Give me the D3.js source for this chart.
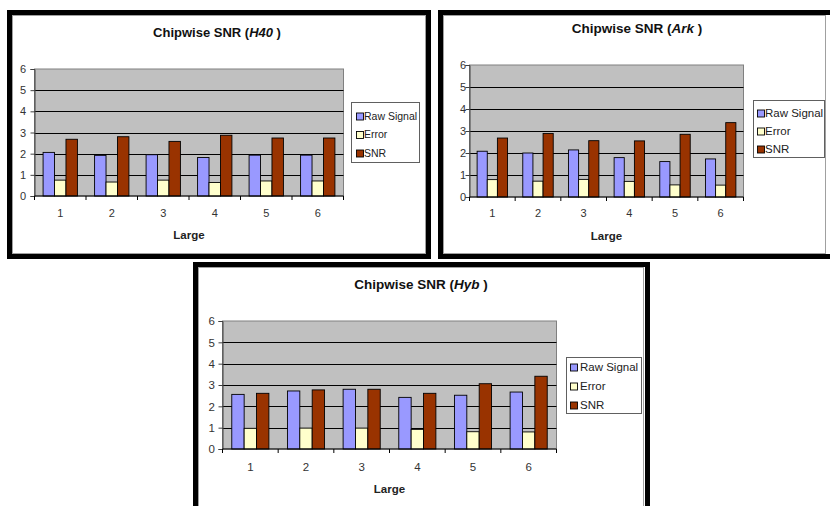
<!DOCTYPE html>
<html>
<head>
<meta charset="utf-8">
<script src="https://cdn.jsdelivr.net/npm/d3@7"></script>
<style>
  html, body { margin: 0; padding: 0; background: #ffffff; }
  svg { display: block; font-family: "Liberation Sans", Arial, sans-serif; }
</style>
</head>
<body>
<svg id="chart" width="830" height="506"></svg>
<script>
// ---- data ----
const categories = ["1", "2", "3", "4", "5", "6"];
const seriesNames = ["Raw Signal", "Error", "SNR"];
const yTickValues = [0, 1, 2, 3, 4, 5, 6];
const chartNames = ["H40", "Ark", "Hyb"];
const titlePrefix = "Chipwise SNR (";
const xAxisTitle = "Large";

const h40Raw   = [2.06, 1.92, 1.95, 1.82, 1.93, 1.93];
const h40Error = [0.75, 0.66, 0.75, 0.64, 0.71, 0.71];
const h40Snr   = [2.68, 2.80, 2.58, 2.87, 2.74, 2.74];

const arkRaw   = [2.08, 2.00, 2.14, 1.79, 1.61, 1.73];
const arkError = [0.79, 0.72, 0.80, 0.71, 0.55, 0.54];
const arkSnr   = [2.68, 2.89, 2.56, 2.55, 2.85, 3.38];

const hybRaw   = [2.56, 2.72, 2.80, 2.42, 2.52, 2.67];
const hybError = [0.97, 0.98, 0.98, 0.92, 0.81, 0.80];
const hybSnr   = [2.61, 2.77, 2.80, 2.61, 3.06, 3.41];

const seriesColors = ["#9999ff", "#ffffcc", "#993300"];

// ---- layout of the three chart panels ----
const panels = [
  {
    name: chartNames[0], values: [h40Raw, h40Error, h40Snr],
    outer: { x: 7, y: 10, w: 424, h: 249 },
    inner: { x: 12.5, y: 15.5, w: 413, h: 238 },
    plot: { left: 34.5, right: 343.5, top: 69, bottom: 196 },
    title: { x: 217, y: 36.5, size: 13 },
    yLabelX: 26, xLabelY: 217, xTitleY: 238.5, tickFont: 11,
    legend: { x: 351.5, y: 102.5, w: 68, h: 60, rows: [116, 134.5, 153], font: 10.5, marker: 7, mx: 356, tx: 364 }
  },
  {
    name: chartNames[1], values: [arkRaw, arkError, arkSnr],
    outer: { x: 438, y: 10, w: 410, h: 249 },
    inner: { x: 443.5, y: 15.5, w: 382, h: 238 },
    plot: { left: 469.5, right: 743.5, top: 65, bottom: 197 },
    title: { x: 637, y: 33, size: 13.5 },
    yLabelX: 466, xLabelY: 217, xTitleY: 239.5, tickFont: 11,
    legend: { x: 753.5, y: 100.5, w: 71, h: 57, rows: [113, 131, 149], font: 11.5, marker: 7, mx: 757, tx: 765 }
  },
  {
    name: chartNames[2], values: [hybRaw, hybError, hybSnr],
    outer: { x: 193, y: 262, w: 457, h: 262 },
    inner: { x: 198.5, y: 267.5, w: 445, h: 250 },
    plot: { left: 222.5, right: 556.5, top: 321, bottom: 449 },
    title: { x: 421, y: 289, size: 13.5 },
    yLabelX: 215, xLabelY: 471, xTitleY: 492.5, tickFont: 11.5,
    legend: { x: 566.5, y: 357.5, w: 75, h: 56, rows: [367, 386, 405], font: 11.5, marker: 7, mx: 570, tx: 580 }
  }
];

const svg = d3.select("#chart");

panels.forEach(p => {
  const g = svg.append("g");

  // thick black frame with a thin grey line just inside it
  g.append("rect")
    .attr("x", p.outer.x + 2.5).attr("y", p.outer.y + 2.5)
    .attr("width", p.outer.w - 5).attr("height", p.outer.h - 5)
    .attr("fill", "#ffffff").attr("stroke", "#000000").attr("stroke-width", 5);
  g.append("rect")
    .attr("x", p.inner.x).attr("y", p.inner.y)
    .attr("width", p.inner.w).attr("height", p.inner.h)
    .attr("fill", "none").attr("stroke", "#a0a0a0").attr("stroke-width", 1);

  // scales
  const x0 = d3.scaleBand().domain(categories).range([p.plot.left, p.plot.right]).padding(0);
  const x1 = d3.scaleBand().domain(seriesNames).range([0, x0.bandwidth()])
    .paddingInner(0).paddingOuter(0.75);
  const y = d3.scaleLinear().domain([0, 6]).range([p.plot.bottom, p.plot.top]);

  // plot area
  g.append("rect")
    .attr("x", p.plot.left).attr("y", y(6))
    .attr("width", p.plot.right - p.plot.left).attr("height", y(0) - y(6))
    .attr("fill", "#c0c0c0").attr("stroke", "#808080").attr("stroke-width", 1);

  // horizontal gridlines
  g.append("g").selectAll("line")
    .data(yTickValues.filter(v => v > 0 && v < 6))
    .join("line")
    .attr("x1", p.plot.left).attr("x2", p.plot.right)
    .attr("y1", d => Math.round(y(d)) + 0.5).attr("y2", d => Math.round(y(d)) + 0.5)
    .attr("stroke", "#000000").attr("stroke-width", 1);

  // bars
  const groups = g.append("g").selectAll("g")
    .data(categories)
    .join("g")
    .attr("transform", d => `translate(${x0(d)},0)`);
  groups.selectAll("rect")
    .data((c, ci) => seriesNames.map((s, si) => ({ s, si, v: p.values[si][ci] })))
    .join("rect")
    .attr("x", d => x1(d.s))
    .attr("y", d => y(d.v))
    .attr("width", x1.bandwidth())
    .attr("height", d => y(0) - y(d.v))
    .attr("fill", d => seriesColors[d.si])
    .attr("stroke", "#000000").attr("stroke-width", 0.9);

  // y axis
  const yAxis = d3.axisLeft(y).tickValues(yTickValues).tickSize(4).tickPadding(4)
    .tickFormat(d3.format("d"));
  const ya = g.append("g")
    .attr("transform", `translate(${p.plot.left},0)`)
    .call(yAxis);
  ya.select(".domain").attr("stroke", "#404040");
  ya.selectAll(".tick line").attr("stroke", "#404040");
  ya.selectAll(".tick text")
    .attr("x", p.yLabelX - p.plot.left)
    .attr("font-size", p.tickFont).attr("fill", "#333333")
    .attr("font-family", "Liberation Sans, Arial, sans-serif");

  // x axis: ticks at category boundaries, labels centred in each category
  const xa = g.append("g").attr("transform", `translate(0,${y(0)})`);
  xa.append("line")
    .attr("x1", p.plot.left).attr("x2", p.plot.right)
    .attr("stroke", "#000000").attr("stroke-width", 1);
  const bounds = categories.map(c => x0(c)).concat([x0(categories[categories.length - 1]) + x0.bandwidth()]);
  xa.selectAll("line.tk").data(bounds).join("line").attr("class", "tk")
    .attr("x1", d => d).attr("x2", d => d).attr("y1", 0).attr("y2", 4)
    .attr("stroke", "#000000");
  g.append("g").selectAll("text").data(categories).join("text")
    .attr("x", d => x0(d) + x0.bandwidth() / 2)
    .attr("y", p.xLabelY)
    .attr("text-anchor", "middle")
    .attr("font-size", p.tickFont).attr("fill", "#333333")
    .text(d => d);

  // axis title
  g.append("text")
    .attr("x", x0(categories[0]) + (p.plot.right - p.plot.left) / 2)
    .attr("y", p.xTitleY)
    .attr("text-anchor", "middle")
    .attr("font-size", 11.5).attr("font-weight", "bold").attr("fill", "#222222")
    .text(xAxisTitle);

  // chart title with the italic data-set name
  const t = g.append("text")
    .attr("x", p.title.x).attr("y", p.title.y)
    .attr("text-anchor", "middle")
    .attr("font-size", p.title.size).attr("font-weight", "bold").attr("fill", "#111111");
  t.append("tspan").text(titlePrefix);
  t.append("tspan").attr("font-style", "italic").text(p.name);
  t.append("tspan").text(" )");

  // legend
  const L = p.legend;
  const lg = g.append("g");
  lg.append("rect")
    .attr("x", L.x).attr("y", L.y).attr("width", L.w).attr("height", L.h)
    .attr("fill", "#ffffff").attr("stroke", "#606060").attr("stroke-width", 1);
  seriesNames.forEach((s, i) => {
    lg.append("rect")
      .attr("x", L.mx + 0.5).attr("y", L.rows[i] - L.marker / 2 + 0.5)
      .attr("width", L.marker).attr("height", L.marker)
      .attr("fill", seriesColors[i]).attr("stroke", "#000000").attr("stroke-width", 0.9);
    lg.append("text")
      .attr("x", L.tx).attr("y", L.rows[i])
      .attr("dy", "0.36em")
      .attr("font-size", L.font).attr("fill", "#222222")
      .text(s);
  });
});
</script>
</body>
</html>
